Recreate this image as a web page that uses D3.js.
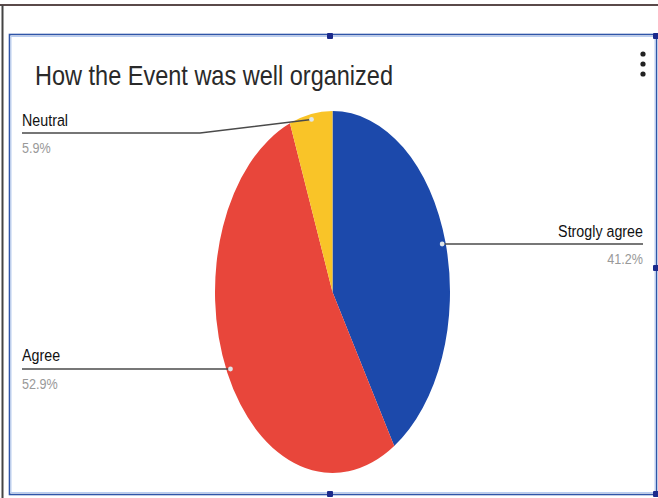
<!DOCTYPE html>
<html>
<head>
<meta charset="utf-8">
<script src="https://cdn.jsdelivr.net/npm/d3@7"></script>
<style>
  html, body { margin: 0; padding: 0; background: #fff; }
  svg { display: block; font-family: "Liberation Sans", Arial, sans-serif; }
</style>
</head>
<body>
<svg id="chart" width="658" height="498"></svg>
<script>
// Survey answers: "How the Event was well organized"
const categories = ["Strogly agree", "Agree", "Neutral"];
const shares = [41.2, 52.9, 5.9];
const percentLabels = ["41.2%", "52.9%", "5.9%"];
const sliceColors = ["#1c49ab", "#e8463b", "#f9c428"];

const svg = d3.select("#chart");
const W = 658, H = 498;

// card frame: outer edge and the selected-card outline with its handles
svg.append("line").attr("x1", 0).attr("x2", W).attr("y1", 5).attr("y2", 5)
  .attr("stroke", "#5a4a4a").attr("stroke-width", 2);
svg.append("line").attr("x1", 2.5).attr("x2", 2.5).attr("y1", 5).attr("y2", H)
  .attr("stroke", "#444").attr("stroke-width", 2);
svg.append("rect").attr("x", 9.5).attr("y", 34.5).attr("width", 647).attr("height", 460)
  .attr("fill", "none").attr("stroke", "#2f55a8").attr("stroke-width", 1.6);
svg.append("rect").attr("x", 11).attr("y", 36.5).attr("width", 644).attr("height", 456)
  .attr("fill", "none").attr("stroke", "#b9cdf0").attr("stroke-width", 1);
const handles = [[330, 36], [330, 494], [656, 268], [656, 494], [656, 36]];
svg.selectAll("rect.handle").data(handles).join("rect")
  .attr("class", "handle")
  .attr("x", d => d[0] - 3).attr("y", d => d[1] - 3)
  .attr("width", 6).attr("height", 6).attr("rx", 1)
  .attr("fill", "#1b2a8c");

// title
svg.append("text").attr("x", 35).attr("y", 85)
  .attr("font-size", 28).attr("fill", "#2a2a2a")
  .attr("textLength", 358).attr("lengthAdjust", "spacingAndGlyphs")
  .text("How the Event was well organized");

// overflow menu dots
svg.selectAll("circle.menu").data([54, 64, 74]).join("circle")
  .attr("class", "menu").attr("cx", 643).attr("cy", d => d).attr("r", 2.6)
  .attr("fill", "#222");

// pie (drawn as a circle, stretched vertically into an ellipse)
const cx = 332.5, cy = 292, rx = 117.5, ry = 181;
const pie = d3.pie().sort(null).value(d => d)(shares);
const arc = d3.arc().innerRadius(0).outerRadius(rx);
const g = svg.append("g")
  .attr("transform", `translate(${cx},${cy}) scale(1,${ry / rx})`);
g.selectAll("path").data(pie).join("path")
  .attr("d", arc)
  .attr("fill", (d, i) => sliceColors[i]);

// leader anchor points at the middle angle of each slice
const anchor = d => {
  const a = (d.startAngle + d.endAngle) / 2;
  return [cx + rx * 0.97 * Math.sin(a), cy - ry * 0.97 * Math.cos(a)];
};

// label layout: text position, alignment, and leader path end
const labelLayout = [
  { x: 643, y: 237, anchor: "end", lineY: 244, lineTo: 643, elbow: null },
  { x: 22, y: 361, anchor: "start", lineY: 369, lineTo: 22, elbow: null },
  { x: 22, y: 126, anchor: "start", lineY: 133, lineTo: 22, elbow: 200 }
];

pie.forEach((d, i) => {
  const [px, py] = anchor(d);
  const L = labelLayout[i];
  let pts;
  if (L.elbow === null) {
    pts = [[px, py], [L.lineTo, L.lineY]];
    pts[0][1] = L.lineY;
  } else {
    pts = [[px, py], [L.elbow, L.lineY], [L.lineTo, L.lineY]];
  }
  svg.append("path")
    .attr("d", d3.line()(pts))
    .attr("fill", "none").attr("stroke", "#4a4a4a").attr("stroke-width", 1.5);
  svg.append("circle")
    .attr("cx", px).attr("cy", L.elbow === null ? L.lineY : py).attr("r", 2.4)
    .attr("fill", "#dfe6ea");

  const nameText = svg.append("text")
    .attr("x", L.x).attr("y", L.y)
    .attr("text-anchor", L.anchor)
    .attr("font-size", 17).attr("fill", "#111")
    .text(categories[i]);
  nameText.attr("transform",
    `translate(${L.x},0) scale(0.84,1) translate(${-L.x},0)`);

  const pctText = svg.append("text")
    .attr("x", L.x).attr("y", L.lineY + 20)
    .attr("text-anchor", L.anchor)
    .attr("font-size", 15).attr("fill", "#999")
    .text(percentLabels[i]);
  pctText.attr("transform",
    `translate(${L.x},0) scale(0.84,1) translate(${-L.x},0)`);
});
</script>
</body>
</html>
